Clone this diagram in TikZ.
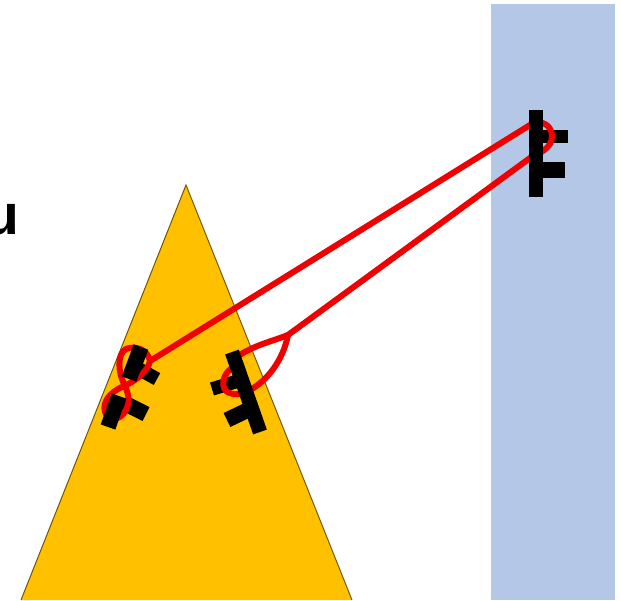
\documentclass[tikz,border=0pt]{standalone}
\usepackage{fontspec}
\setmainfont[BoldFont={Liberation Sans Bold}]{Liberation Sans}
\definecolor{slab}{HTML}{B4C7E7}
\definecolor{wedge}{HTML}{FFC000}
\definecolor{strand}{HTML}{F00000}
\tikzset{
  bar/.style={line width=13.5pt,black},
  widebar/.style={line width=15.5pt,black},
  rope/.style={line width=6pt,strand,line cap=round,line join=round},
}
\begin{document}
\begin{tikzpicture}[x=1pt,y=-1pt]
\useasboundingbox (0,0) rectangle (621,600);
\fill[slab] (491,4) rectangle (615,600);
\draw[wedge!45!black,line width=1pt,fill=wedge] (21,600) -- (186,185) -- (352,600);
\node[anchor=base west,inner sep=0pt,font=\bfseries\fontsize{57}{57}\selectfont] (letter) at (-16,234) {u};
% stubs
\draw[bar] (543,136.5) -- (568,136.5);
\draw[widebar] (543,170) -- (565,170);
\draw[bar] (238,381) -- (212,389);
\draw[widebar] (252,408) -- (227,420);
\draw[bar] (135,367) -- (157,379);
\draw[widebar] (124,403) -- (146,414);
% red strands
\draw[rope] (150,361) -- (530,125);
\draw[rope] (530,158) -- (288,335);
\draw[rope] (288,335) .. controls (270,342) and (255,345) .. (238,356);
\draw[rope] (288,335) .. controls (283,360) and (268,380) .. (250,390);
\draw[rope] (530,125) .. controls (543,118) and (552,127) .. (552,136) .. controls (552,148) and (540,153) .. (530,158);
\draw[rope] (236,366) .. controls (224,370) and (220,385) .. (226,391) .. controls (233,396) and (243,395) .. (250,390);
\draw[rope] (150,361) .. controls (148,350) and (136,345) .. (126,349) .. controls (117,354) and (118,372) .. (124,384) .. controls (130,396) and (130,405) .. (124,413) .. controls (118,421) and (108,421) .. (105,412) .. controls (102,402) and (110,392) .. (124,386) .. controls (138,380) and (148,370) .. (150,361);
% main bars
\draw[bar] (536,110) -- (536,197);
\draw[line width=14.5pt] (232,352) -- (260,432);
\draw[widebar] (141,347) -- (129,379);
\draw[widebar] (119,396) -- (108,427);
\end{tikzpicture}
\end{document}
